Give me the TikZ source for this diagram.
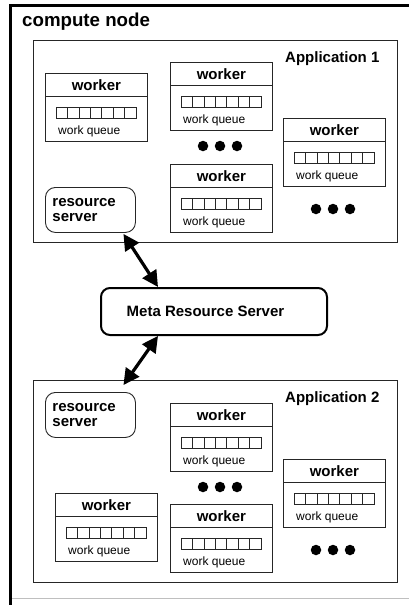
\documentclass[tikz,border=0pt]{standalone}
\usepackage{fontspec}
\setmainfont{Liberation Sans}
\usetikzlibrary{arrows.meta,calc}

\tikzset{
  wbox/.style={draw=black!85, line width=0.8pt, minimum width=102pt, minimum height=68pt, inner sep=0pt, anchor=north west},
  wtitle/.style={font=\bfseries\fontsize{15}{17}\selectfont, inner sep=0pt},
  wq/.style={font=\fontsize{12}{14}\selectfont, inner sep=0pt, anchor=west},
  cell/.style={draw=black!85, line width=0.7pt},
  appbox/.style={draw=black!85, line width=1.4pt, minimum width=364pt, minimum height=202pt, inner sep=0pt, anchor=north west},
  apptitle/.style={font=\bfseries\fontsize{15}{17}\selectfont, inner sep=0pt, anchor=base west},
  rsbox/.style={draw=black!85, line width=0.9pt, rounded corners=10pt, minimum width=90pt, minimum height=45pt,
    inner xsep=7pt, text width=76pt, align=left, anchor=north west, font=\bfseries\fontsize{15}{14.5}\selectfont},
  metabox/.style={draw=black, line width=2pt, rounded corners=9pt, minimum width=226pt, minimum height=47pt,
    inner sep=0pt, font=\bfseries\fontsize{15}{17}\selectfont},
  dotmark/.style={circle, fill=black, inner sep=0pt, minimum size=10.5pt},
  dbl/.style={line width=3.2pt, {Triangle[length=16pt,width=16pt]}-{Triangle[length=16pt,width=16pt]}},
}

% a worker: box, title band, seven-slot queue and its caption
\newcommand\workerat[3]{%
  \node[wbox] (#1) at (#2,#3) {};
  \draw[draw=black!85, line width=0.8pt] ($(#1.north west)+(0,23.5)$) -- ($(#1.north east)+(0,23.5)$);
  \node[wtitle] (#1-t) at ($(#1.north)+(0,12)$) {worker};
  \foreach \i in {0,...,6}
    \draw[cell] ($(#1.north west)+(11+\i*11.43,34)$) rectangle ++(11.43,11);
  \node[wq] (#1-q) at ($(#1.north west)+(13,58)$) {work queue};
}

% three dots in a row
\newcommand\dotsat[3]{%
  \node[dotmark] (#1-a) at (#2-17,#3) {};
  \node[dotmark] (#1-b) at (#2,#3) {};
  \node[dotmark] (#1-c) at (#2+17,#3) {};
}

\begin{document}
\begin{tikzpicture}[x=1pt,y=-1pt]
  \fill[white] (0,0) rectangle (409,605);
  \useasboundingbox (0,0) rectangle (409,605);

  % compute node frame
  \draw[line width=3pt, line cap=rect] (10.5,605) -- (10.5,5.5) -- (409,5.5);
  \draw[black!25, line width=1pt] (12,598.5) -- (409,598.5);
  \node[inner sep=0pt, anchor=base west, font=\bfseries\fontsize{18.7}{21}\selectfont] (cn) at (22,27) {compute node};

  % application 1
  \node[appbox] (app1) at (33,40) {};
  \node[apptitle] (app1-t) at (285,62.5) {Application 1};
  \workerat{w1}{45}{73}
  \workerat{w2}{170}{62}
  \workerat{w3}{170}{164}
  \workerat{w4}{283}{118}
  \dotsat{d1}{220}{146}
  \dotsat{d2}{333}{209}
  \node[rsbox] (rs1) at (45,187) {resource\\server};

  % meta resource server
  \node[metabox] (meta) at (214,311.5) {\hspace*{-17pt}Meta Resource Server};

  % application 2
  \node[appbox] (app2) at (33,380) {};
  \node[apptitle] (app2-t) at (285,402.5) {Application 2};
  \workerat{w5}{170}{403}
  \workerat{w6}{55}{493}
  \workerat{w7}{170}{504}
  \workerat{w8}{283}{459}
  \dotsat{d3}{220}{487}
  \dotsat{d4}{333}{550}
  \node[rsbox] (rs2) at (45,392) {resource\\server};

  % links to the meta resource server
  \draw[dbl] ([xshift=33pt,yshift=-1pt]rs1.south) -- ([xshift=-56pt]meta.north);
  \draw[dbl] ([xshift=-56pt]meta.south) -- ([xshift=33pt,yshift=7pt]rs2.north);
\end{tikzpicture}
\end{document}
